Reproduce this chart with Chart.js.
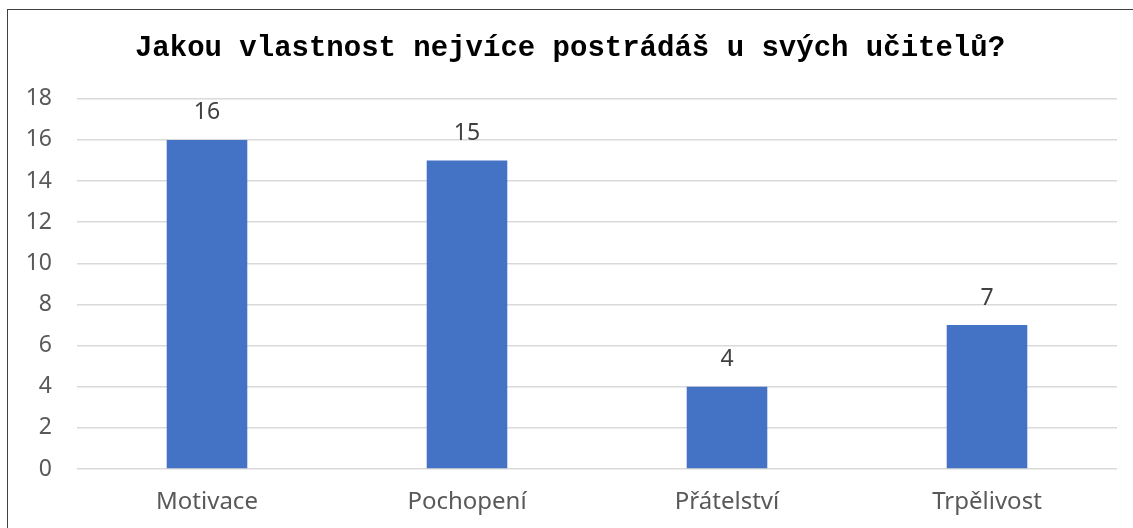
<!DOCTYPE html>
<html>
<head>
<meta charset="utf-8">
<script src="https://cdn.jsdelivr.net/npm/chart.js@4"></script>
<style>
  html, body { margin: 0; padding: 0; background: #fff; overflow: hidden; }
  #frame { position: absolute; left: 7px; top: 9px; width: 1200px; height: 600px; border: 1.5px solid #404040; }
  #wrap { position: absolute; left: 0; top: 0; width: 1133px; height: 528px; }
</style>
</head>
<body>
<div id="frame"></div>
<div id="wrap"><canvas id="c"></canvas></div>
<script>
// ===== Kategorie a hodnoty =====
const categories = ['Motivace', 'Pochopení', 'Přátelství', 'Trpělivost'];
const values = [16, 15, 4, 7];
const yTicks = [0, 2, 4, 6, 8, 10, 12, 14, 16, 18];

const barColor = '#4472C4';
const textColor = '#595959';

// popisky hodnot nad sloupci
const valueLabels = {
    id: 'valueLabels',
    afterDatasetsDraw(chart) {
        const ctx = chart.ctx;
        const meta = chart.getDatasetMeta(0);
        ctx.save();
        ctx.font = '23px "Noto Sans"';
        ctx.fillStyle = '#404040';
        ctx.textAlign = 'center';
        ctx.textBaseline = 'middle';
        meta.data.forEach((bar, i) => {
            ctx.fillText(values[i], bar.x, bar.y - 27);
        });
        ctx.restore();
    }
};

new Chart(document.getElementById('c'), {
    type: 'bar',
    data: {
        labels: categories,
        datasets: [{ data: values, backgroundColor: barColor, barPercentage: 0.31, categoryPercentage: 1 }]
    },
    options: {
        responsive: true, maintainAspectRatio: false, animation: false,
        layout: { padding: { left: 23, right: 16, top: 0, bottom: 0 } },
        plugins: {
            legend: { display: false },
            tooltip: { enabled: false },
            title: {
                display: true,
                text: 'Jakou vlastnost nejvíce postrádáš u svých učitelů?',
                font: { family: '"Liberation Mono"', size: 29, weight: 'bold' },
                color: '#000',
                padding: { top: 31, bottom: 33 }
            }
        },
        scales: {
            x: {
                afterFit: s => { s.height = 59; },
                grid: { display: false },
                border: { display: false },
                ticks: { color: textColor, font: { family: '"Noto Sans"', size: 24 }, padding: 11 }
            },
            y: {
                min: 0, max: 18,
                afterFit: s => { s.width = 54; },
                afterBuildTicks: s => { s.ticks = yTicks.map(v => ({ value: v })); },
                grid: { color: '#d9d9d9', lineWidth: 1.5, drawTicks: false },
                border: { display: false },
                ticks: { color: textColor, font: { family: '"Noto Sans"', size: 23 }, padding: 25 }
            }
        }
    },
    plugins: [valueLabels]
});
</script>
</body>
</html>
